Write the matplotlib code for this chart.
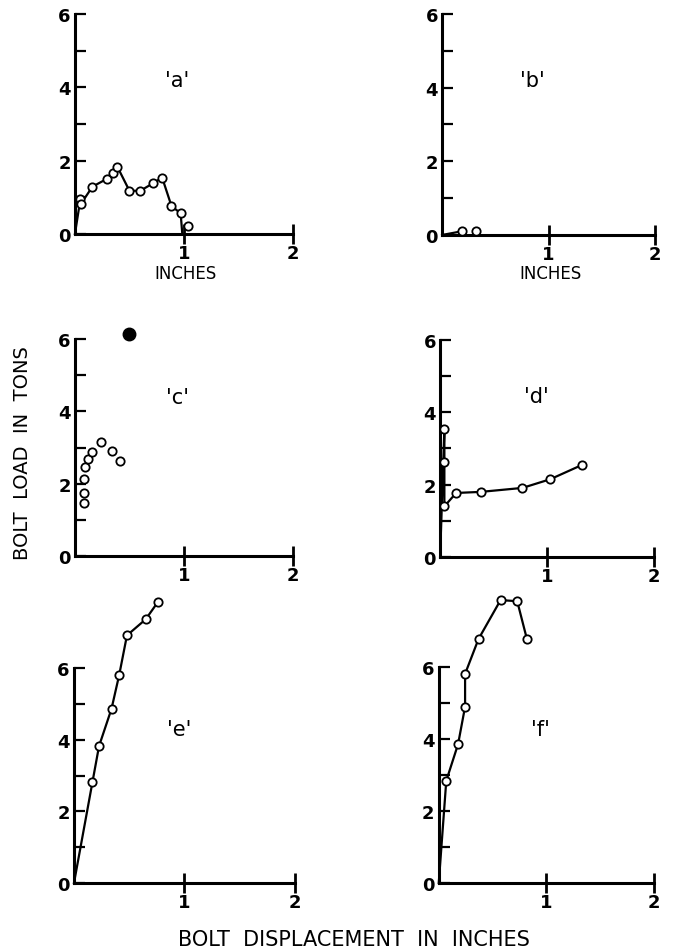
import matplotlib
matplotlib.use("Agg")
import matplotlib.pyplot as plt

# panel data (displacement in inches, load in tons)
a_x = [0.0, 0.05, 0.055, 0.16, 0.29, 0.35, 0.39, 0.50, 0.60, 0.72, 0.80, 0.885, 0.97, 0.985]
a_y = [0.0, 0.95, 0.82, 1.29, 1.50, 1.66, 1.83, 1.18, 1.18, 1.39, 1.54, 0.77, 0.56, 0.0]
a_mx = [0.05, 0.055, 0.16, 0.29, 0.35, 0.39, 0.50, 0.60, 0.72, 0.80, 0.885, 0.97, 1.04]
a_my = [0.95, 0.82, 1.29, 1.50, 1.66, 1.83, 1.18, 1.18, 1.39, 1.54, 0.77, 0.56, 0.23]

b_x = [0.0, 0.185, 0.32]
b_y = [0.0, 0.10, 0.12]

c_x = [0.086, 0.083, 0.083, 0.095, 0.123, 0.154, 0.24, 0.34, 0.41]
c_y = [1.48, 1.74, 2.13, 2.45, 2.68, 2.89, 3.16, 2.91, 2.63]
c_blot = (0.50, 6.13)

d_x = [0.0, 0.04, 0.04, 0.04, 0.15, 0.38, 0.77, 1.03, 1.33]
d_y = [0.0, 3.55, 2.64, 1.40, 1.77, 1.80, 1.91, 2.15, 2.55]

e_x = [0.0, 0.167, 0.227, 0.34, 0.41, 0.48, 0.65, 0.76]
e_y = [0.0, 2.81, 3.82, 4.86, 5.81, 6.91, 7.36, 7.84]

f_x = [0.0, 0.07, 0.18, 0.245, 0.245, 0.37, 0.575, 0.73, 0.82]
f_y = [0.0, 2.84, 3.86, 4.90, 5.81, 6.78, 7.86, 7.83, 6.78]

panel_labels = ["'a'", "'b'", "'c'", "'d'", "'e'", "'f'"]
label_pos = [(0.94, 4.2), (0.85, 4.2), (0.94, 4.4), (0.90, 4.45), (0.95, 4.3), (0.95, 4.28)]

rects = [
    [0.111, 0.7534, 0.323, 0.2308],
    [0.655, 0.7524, 0.3156, 0.2319],
    [0.111, 0.4155, 0.323, 0.2277],
    [0.652, 0.4145, 0.317, 0.2277],
    [0.1096, 0.0724, 0.327, 0.2256],
    [0.650, 0.0724, 0.3185, 0.2266],
]

fig = plt.figure(figsize=(6.75, 9.53), dpi=100)
axes = [fig.add_axes(r) for r in rects]

mk = dict(marker="o", markersize=6, markerfacecolor="white", markeredgecolor="black",
          markeredgewidth=1.3, clip_on=False, zorder=4)

for i, ax in enumerate(axes):
    ax.set_xlim(0, 2)
    ax.set_ylim(0, 6)
    ax.spines["top"].set_visible(False)
    ax.spines["right"].set_visible(False)
    ax.spines["left"].set_linewidth(2.2)
    ax.spines["bottom"].set_linewidth(2.2)
    ax.set_xticks([1, 2])
    ax.set_xticklabels(["1", "2"])
    ax.set_yticks([0, 2, 4, 6])
    ax.set_yticks([1, 3, 5], minor=True)
    ax.tick_params(axis="y", which="both", direction="in", length=8, width=1.6,
                   labelsize=13, pad=3)
    ax.tick_params(axis="x", direction="inout", length=14, width=2.0, labelsize=13, pad=0)
    ax.text(label_pos[i][0], label_pos[i][1], panel_labels[i], fontsize=15,
            ha="center", va="center")
    for lbl in ax.get_xticklabels() + ax.get_yticklabels():
        lbl.set_fontweight("bold")

ax_a, ax_b, ax_c, ax_d, ax_e, ax_f = axes

ax_a.plot(a_x, a_y, color="black", lw=1.6, clip_on=False, zorder=3)
ax_a.plot(a_mx, a_my, linestyle="none", **mk)

ax_b.plot(b_x[:2], b_y[:2], color="black", lw=1.6, clip_on=False, zorder=3)
ax_b.plot(b_x[1:], b_y[1:], linestyle="none", **mk)

ax_c.plot(c_x, c_y, linestyle="none", **mk)
ax_c.plot([c_blot[0]], [c_blot[1]], marker="o", markersize=9, color="black",
          linestyle="none", clip_on=False)

ax_d.plot(d_x, d_y, color="black", lw=1.6, clip_on=False, zorder=3)
ax_d.plot(d_x[1:], d_y[1:], linestyle="none", **mk)

ax_e.plot(e_x, e_y, color="black", lw=1.6, clip_on=False, zorder=3)
ax_e.plot(e_x[1:], e_y[1:], linestyle="none", **mk)

ax_f.plot(f_x, f_y, color="black", lw=1.6, clip_on=False, zorder=3)
ax_f.plot(f_x[1:], f_y[1:], linestyle="none", **mk)

fig.text(0.275, 0.713, "INCHES", ha="center", va="center", fontsize=12)
fig.text(0.815, 0.713, "INCHES", ha="center", va="center", fontsize=12)
fig.text(0.033, 0.525, "BOLT  LOAD  IN  TONS", rotation=90, ha="center", va="center",
         fontsize=14)
fig.text(0.525, 0.014, "BOLT  DISPLACEMENT  IN  INCHES", ha="center", va="center",
         fontsize=15)

fig.savefig("out.png", dpi=100)
